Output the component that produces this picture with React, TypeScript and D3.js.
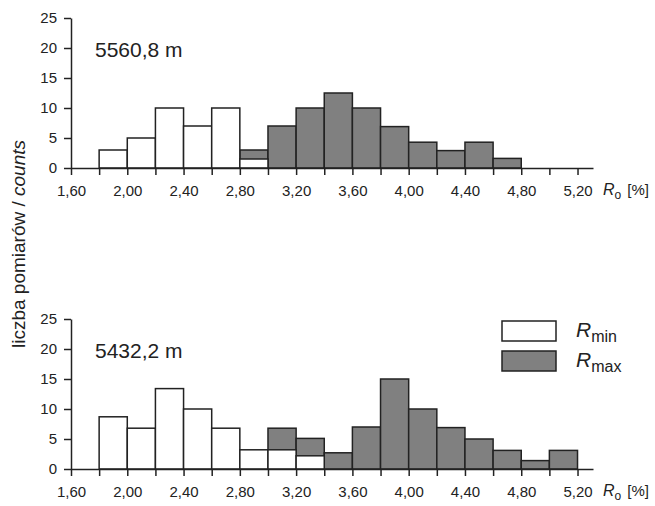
import * as d3 from 'd3';
import React, { useEffect, useRef } from 'react';

// bin starts (width 0.2), counts aligned with them, 0 = no bar
const binStarts = [1.8, 2.0, 2.2, 2.4, 2.6, 2.8, 3.0, 3.2, 3.4, 3.6, 3.8, 4.0, 4.2, 4.4, 4.6, 4.8, 5.0];

const topMin = [3, 5, 10, 7, 10, 1.5, 0, 0, 0, 0, 0, 0, 0, 0, 0, 0, 0];
const topMax = [0, 0, 0, 0, 0, 3, 7, 10, 12.5, 10, 6.9, 4.3, 2.9, 4.3, 1.6, 0, 0];

const botMin = [8.7, 6.8, 13.4, 10, 6.8, 3.2, 3.2, 2.2, 0, 0, 0, 0, 0, 0, 0, 0, 0];
const botMax = [0, 0, 0, 0, 0, 0, 6.8, 5.1, 2.7, 7, 15, 10, 6.9, 5, 3.1, 1.4, 3.1];

const xTicks = [1.6, 1.8, 2.0, 2.2, 2.4, 2.6, 2.8, 3.0, 3.2, 3.4, 3.6, 3.8, 4.0, 4.2, 4.4, 4.6, 4.8, 5.0, 5.2];
const xLabelTicks = [1.6, 2.0, 2.4, 2.8, 3.2, 3.6, 4.0, 4.4, 4.8, 5.2];
const yTicks = [0, 5, 10, 15, 20, 25];

const panels = [
  { label: '5560,8 m', min: topMin, max: topMax, base: 168 },
  { label: '5432,2 m', min: botMin, max: botMax, base: 469 },
];

const FONT = '"Liberation Sans", Arial, sans-serif';
const INK = '#222';
const GREY = '#808080';

const App: React.FC = () => {
  const ref = useRef<SVGSVGElement | null>(null);

  useEffect(() => {
    const svg = d3.select(ref.current);
    svg.selectAll('*').remove();
    svg.style('font-family', FONT);

    const x = d3.scaleLinear().domain([1.6, 5.31]).range([71, 593]);
    const bw = 0.2;

    panels.forEach(p => {
      const y = d3.scaleLinear().domain([0, 25]).range([p.base, p.base - 150]);
      const g = svg.append('g');

      const drawBars = (vals: number[], fill: string) => {
        g.append('g')
          .selectAll('rect')
          .data(binStarts.map((s, i) => ({ s, v: vals[i] })).filter(d => d.v > 0))
          .enter()
          .append('rect')
          .attr('x', d => x(d.s))
          .attr('y', d => y(d.v))
          .attr('width', d => x(d.s + bw) - x(d.s))
          .attr('height', d => y(0) - y(d.v))
          .attr('fill', fill)
          .attr('stroke', INK)
          .attr('stroke-width', 1.5);
      };
      drawBars(p.max, GREY);
      drawBars(p.min, '#fff');

      const xa = g.append('g')
        .attr('transform', `translate(0,${y(0)})`)
        .call(d3.axisBottom(x).tickValues(xTicks).tickSize(7).tickSizeOuter(0).tickPadding(10)
          .tickFormat(d => (xLabelTicks.some(t => Math.abs(t - +d) < 1e-6) ? d3.format('.2f')(+d).replace('.', ',') : '')));
      xa.selectAll('text').attr('font-size', 15).attr('fill', INK).attr('font-family', FONT);

      const ya = g.append('g')
        .attr('transform', `translate(${x(1.6)},0)`)
        .call(d3.axisLeft(y).tickValues(yTicks).tickSize(7).tickSizeOuter(0).tickPadding(7));
      ya.selectAll('text').attr('font-size', 15).attr('fill', INK).attr('font-family', FONT);

      g.selectAll('.domain, .tick line').attr('stroke', INK).attr('stroke-width', 1.5);

      g.append('text')
        .attr('x', 95)
        .attr('y', p.base - 111)
        .attr('font-size', 21)
        .attr('fill', INK)
        .text(p.label);

      const xl = g.append('text')
        .attr('x', 603)
        .attr('y', p.base + 27)
        .attr('font-size', 16)
        .attr('fill', INK);
      xl.append('tspan').attr('font-style', 'italic').text('R');
      xl.append('tspan').attr('font-size', 12).attr('dy', 4).text('o');
      xl.append('tspan').attr('font-size', 15).attr('dy', -4).attr('dx', 6).text('[%]');
    });

    // legend
    const legend = [
      { sub: 'min', fill: '#fff', y: 321 },
      { sub: 'max', fill: GREY, y: 351 },
    ];
    legend.forEach(l => {
      svg.append('rect')
        .attr('x', 502).attr('y', l.y).attr('width', 54).attr('height', 20)
        .attr('fill', l.fill).attr('stroke', INK).attr('stroke-width', 1.5);
      const t = svg.append('text')
        .attr('x', 576).attr('y', l.y + 16)
        .attr('font-size', 21).attr('fill', INK);
      t.append('tspan').attr('font-style', 'italic').text('R');
      t.append('tspan').attr('font-size', 16).attr('dy', 5).text(l.sub);
    });

    svg.append('text')
      .attr('transform', 'translate(25,244) rotate(-90)')
      .attr('text-anchor', 'middle')
      .attr('font-size', 19)
      .attr('fill', INK)
      .call(t => {
        t.append('tspan').text('liczba pomiarów / ');
        t.append('tspan').attr('font-style', 'italic').text('counts');
      });
  }, []);

  return (
    <svg
      ref={ref}
      width={655}
      height={506}
      style={{ position: 'absolute', left: 0, top: 0, background: '#fff' }}
    />
  );
};

export default App;
